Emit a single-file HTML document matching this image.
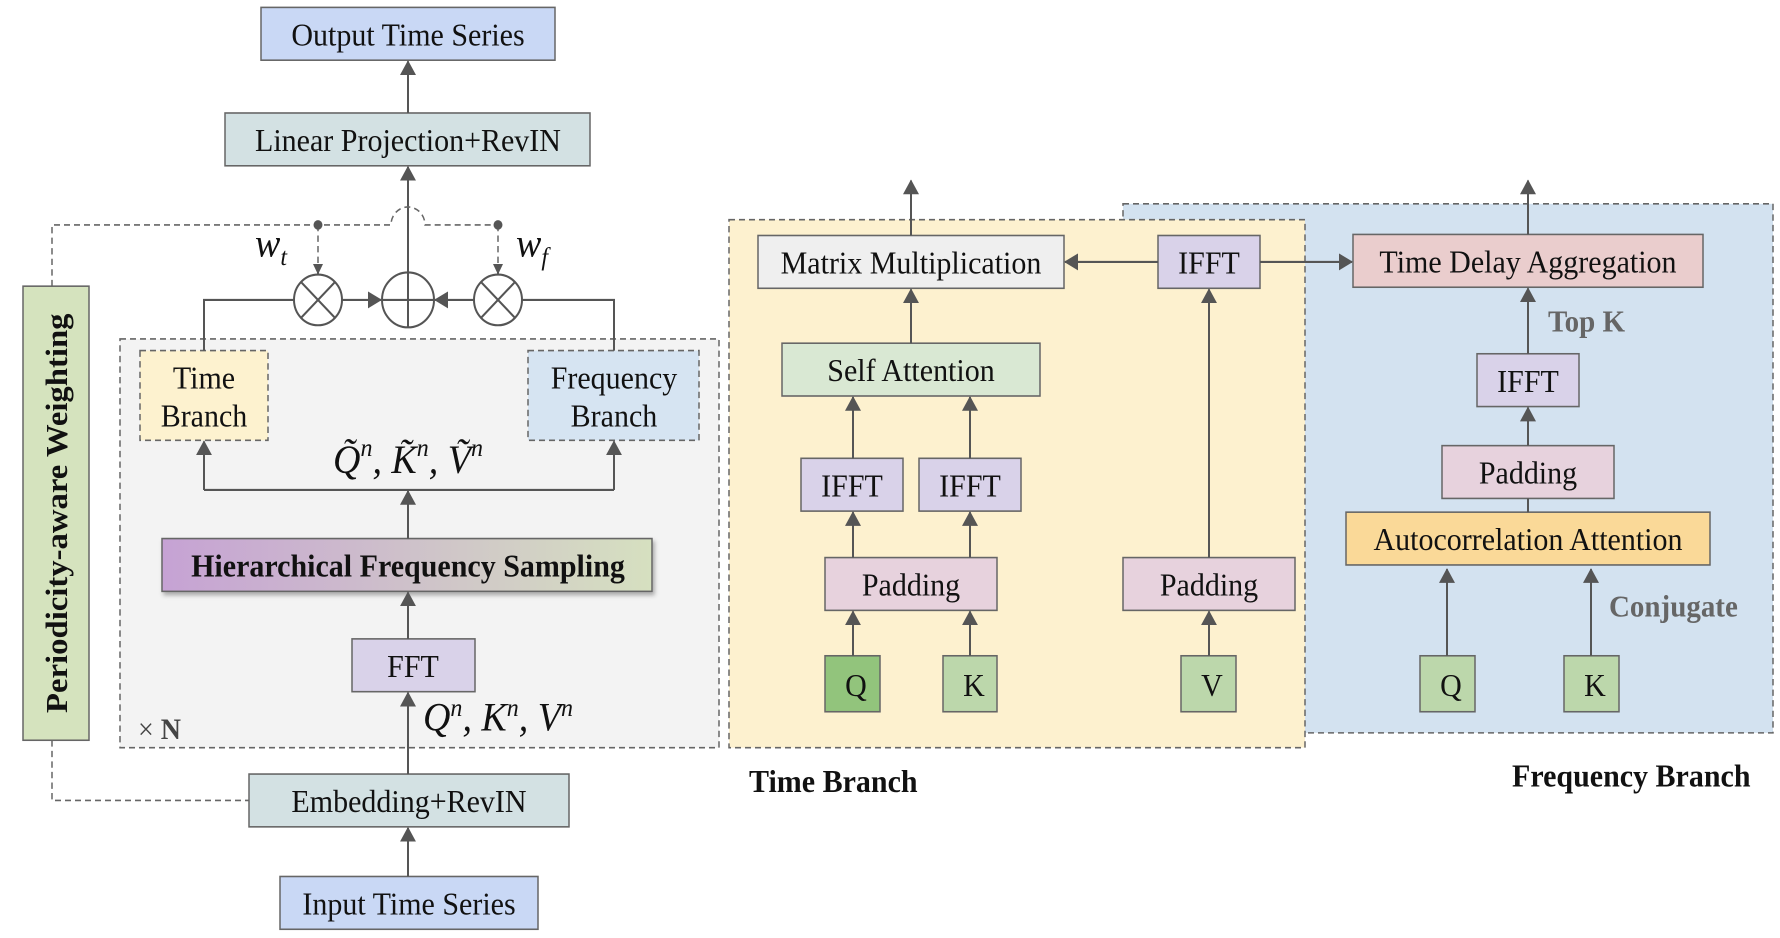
<!DOCTYPE html>
<html><head><meta charset="utf-8"><style>
html,body{margin:0;padding:0;background:#fff;}
svg{display:block;}
text{font-family:"Liberation Serif",serif;}
</style></head><body>
<svg width="1780" height="938" viewBox="0 0 1780 938" xmlns="http://www.w3.org/2000/svg">
<defs>
<marker id="a" markerWidth="10" markerHeight="10" refX="9" refY="5" orient="auto" markerUnits="userSpaceOnUse" viewBox="0 0 10 10">
<path d="M0,0 L10,5 L0,10 z" fill="#555"/></marker>
<marker id="b" markerWidth="14" markerHeight="16" refX="13" refY="8" orient="auto" markerUnits="userSpaceOnUse" viewBox="0 0 14 16">
<path d="M0,0 L14,8 L0,16 z" fill="#555"/></marker>
<linearGradient id="g" x1="0" x2="1" y1="0" y2="0"><stop offset="0" stop-color="#c6a2d4"/><stop offset="1" stop-color="#d6e0c0"/></linearGradient>
<filter id="sh" x="-5%" y="-20%" width="110%" height="150%"><feDropShadow dx="2" dy="3" stdDeviation="2" flood-color="#000" flood-opacity="0.3"/></filter>
</defs>
<g transform="scale(1,1.056)">
<g stroke="#666" stroke-width="1.5">
<rect x="120" y="321" width="599" height="387" fill="#f3f3f3" stroke-dasharray="6,4"/>
<rect x="1123" y="193" width="650" height="501" fill="#d3e2f0" stroke-dasharray="6,4"/>
<rect x="729" y="208" width="576" height="500" fill="#fdf1cf" stroke-dasharray="6,4"/>
<rect x="261" y="7" width="294" height="50" fill="#c9d8f5"/>
<rect x="225" y="107" width="365" height="50" fill="#d3e1e3"/>
<rect x="23" y="271" width="66" height="430" fill="#d5e3be"/>
<rect x="140" y="332" width="128" height="85" fill="#fdf2cf" stroke-dasharray="6,4"/>
<rect x="528" y="332" width="171" height="85" fill="#d6e4f2" stroke-dasharray="6,4"/>
<rect x="162" y="510" width="490" height="50" fill="url(#g)" filter="url(#sh)"/>
<rect x="352" y="605" width="123" height="50" fill="#d9d2e9"/>
<rect x="249" y="733" width="320" height="50" fill="#d3e1e3"/>
<rect x="280" y="830" width="258" height="50" fill="#c9d8f5"/>
<rect x="758" y="223" width="306" height="50" fill="#efefef"/>
<rect x="1158" y="223" width="102" height="50" fill="#d9d2e9"/>
<rect x="782" y="325" width="258" height="50" fill="#d9e8d3"/>
<rect x="801" y="434" width="102" height="50" fill="#d9d2e9"/>
<rect x="919" y="434" width="102" height="50" fill="#d9d2e9"/>
<rect x="825" y="528" width="172" height="50" fill="#e7d2dd"/>
<rect x="1123" y="528" width="172" height="50" fill="#e7d2dd"/>
<rect x="825" y="621" width="55" height="53" fill="#92c47c"/>
<rect x="943" y="621" width="54" height="53" fill="#bcd7ab"/>
<rect x="1181" y="621" width="55" height="53" fill="#bcd7ab"/>
<rect x="1353" y="222" width="350" height="50" fill="#eacdcd"/>
<rect x="1477" y="335" width="102" height="50" fill="#d9d2e9"/>
<rect x="1442" y="422" width="172" height="50" fill="#e7d2dd"/>
<rect x="1346" y="485" width="364" height="50" fill="#fad998"/>
<rect x="1420" y="621" width="55" height="53" fill="#bcd7ab"/>
<rect x="1564" y="621" width="55" height="53" fill="#bcd7ab"/>
</g>
<g stroke="#555" stroke-width="2" fill="none">
<line x1="408" y1="107" x2="408" y2="58" marker-end="url(#b)"/>
<line x1="408" y1="309" x2="408" y2="158" marker-end="url(#b)"/>
<path d="M204,332 V284 H294"/>
<path d="M614,332 V284 H522"/>
<line x1="342" y1="284" x2="381" y2="284" marker-end="url(#b)"/>
<line x1="474" y1="284" x2="435" y2="284" marker-end="url(#b)"/>
<path d="M204,464 H614"/>
<line x1="204" y1="464" x2="204" y2="418" marker-end="url(#b)"/>
<line x1="614" y1="464" x2="614" y2="418" marker-end="url(#b)"/>
<line x1="408" y1="510" x2="408" y2="465" marker-end="url(#b)"/>
<line x1="408" y1="605" x2="408" y2="561" marker-end="url(#b)"/>
<line x1="408" y1="733" x2="408" y2="656" marker-end="url(#b)"/>
<line x1="408" y1="830" x2="408" y2="784" marker-end="url(#b)"/>
<g stroke="#666" stroke-width="1.5" stroke-dasharray="6,4">
<path d="M52,271 V213 H391 A17,17 0 0 1 425,213 H498"/>
<path d="M52,701 V758 H249"/>
<line x1="318" y1="213" x2="318" y2="258"/>
<line x1="498" y1="213" x2="498" y2="258"/>
</g>
<line x1="318" y1="250" x2="318" y2="259" marker-end="url(#a)"/>
<line x1="498" y1="250" x2="498" y2="259" marker-end="url(#a)"/>
<line x1="911" y1="223" x2="911" y2="171" marker-end="url(#b)"/>
<line x1="911" y1="325" x2="911" y2="274" marker-end="url(#b)"/>
<line x1="853" y1="434" x2="853" y2="376" marker-end="url(#b)"/>
<line x1="970" y1="434" x2="970" y2="376" marker-end="url(#b)"/>
<line x1="853" y1="528" x2="853" y2="485" marker-end="url(#b)"/>
<line x1="970" y1="528" x2="970" y2="485" marker-end="url(#b)"/>
<line x1="853" y1="621" x2="853" y2="579" marker-end="url(#b)"/>
<line x1="970" y1="621" x2="970" y2="579" marker-end="url(#b)"/>
<line x1="1209" y1="621" x2="1209" y2="579" marker-end="url(#b)"/>
<line x1="1209" y1="528" x2="1209" y2="274" marker-end="url(#b)"/>
<line x1="1158" y1="248" x2="1065" y2="248" marker-end="url(#b)"/>
<line x1="1260" y1="248" x2="1352" y2="248" marker-end="url(#b)"/>
<line x1="1528" y1="222" x2="1528" y2="171" marker-end="url(#b)"/>
<line x1="1528" y1="335" x2="1528" y2="273" marker-end="url(#b)"/>
<line x1="1528" y1="422" x2="1528" y2="386" marker-end="url(#b)"/>
<line x1="1528" y1="485" x2="1528" y2="472"/>
<line x1="1447" y1="621" x2="1447" y2="539" marker-end="url(#b)"/>
<line x1="1591" y1="621" x2="1591" y2="539" marker-end="url(#b)"/>
</g>
<g stroke="#555" stroke-width="2" fill="#fff">
<circle cx="318" cy="284" r="24"/><path d="M301,267 L335,301 M335,267 L301,301" fill="none"/>
<circle cx="498" cy="284" r="24"/><path d="M481,267 L515,301 M515,267 L481,301" fill="none"/>
<circle cx="408" cy="284" r="26"/><path d="M382,284 H434 M408,258 V310" fill="none"/>
</g>
<circle cx="318" cy="213" r="4.5" fill="#555"/>
<circle cx="498" cy="213" r="4.5" fill="#555"/>
<g font-size="30" text-anchor="middle" fill="#111">
<text x="408" y="43">Output Time Series</text>
<text x="408" y="143">Linear Projection+RevIN</text>
<text x="204" y="368">Time</text>
<text x="204" y="404">Branch</text>
<text x="614" y="368">Frequency</text>
<text x="614" y="404">Branch</text>
<text x="413" y="641">FFT</text>
<text x="409" y="769">Embedding+RevIN</text>
<text x="409" y="866">Input Time Series</text>
<text x="911" y="259">Matrix Multiplication</text>
<text x="1209" y="259">IFFT</text>
<text x="911" y="361">Self Attention</text>
<text x="852" y="470">IFFT</text>
<text x="970" y="470">IFFT</text>
<text x="911" y="564">Padding</text>
<text x="1209" y="564">Padding</text>
<text x="856" y="659">Q</text>
<text x="974" y="659">K</text>
<text x="1212" y="659">V</text>
<text x="1528" y="258">Time Delay Aggregation</text>
<text x="1528" y="371">IFFT</text>
<text x="1528" y="458">Padding</text>
<text x="1528" y="521">Autocorrelation Attention</text>
<text x="1451" y="659">Q</text>
<text x="1595" y="659">K</text>
</g>
<text x="408" y="546" font-size="30" font-weight="bold" text-anchor="middle" fill="#111">Hierarchical Frequency Sampling</text>
<text transform="translate(67,486) rotate(-90)" font-size="31" font-weight="bold" text-anchor="middle" fill="#111">Periodicity-aware Weighting</text>
<text x="138" y="700" font-size="28" fill="#444">× <tspan font-weight="bold">N</tspan></text>
<text x="255" y="243" font-size="38" font-style="italic" fill="#111">w<tspan font-size="24" dy="8">t</tspan></text>
<text x="516" y="243" font-size="38" font-style="italic" fill="#111">w<tspan font-size="24" dy="8">f</tspan></text>
<text x="408" y="448" font-size="38" font-style="italic" text-anchor="middle" fill="#111">Q̃<tspan font-size="24" dy="-16">n</tspan><tspan dy="16">, K̃</tspan><tspan font-size="24" dy="-16">n</tspan><tspan dy="16">, Ṽ</tspan><tspan font-size="24" dy="-16">n</tspan></text>
<text x="423" y="692" font-size="38" font-style="italic" fill="#111">Q<tspan font-size="24" dy="-14">n</tspan><tspan dy="14">, K</tspan><tspan font-size="24" dy="-14">n</tspan><tspan dy="14">, V</tspan><tspan font-size="24" dy="-14">n</tspan></text>
<text x="749" y="750" font-size="30" font-weight="bold" fill="#111">Time Branch</text>
<text x="1512" y="745" font-size="30" font-weight="bold" fill="#111">Frequency Branch</text>
<text x="1548" y="314" font-size="29" font-weight="bold" fill="#666">Top K</text>
<text x="1609" y="584" font-size="29" font-weight="bold" fill="#666">Conjugate</text>
</g>
</svg>
</body></html>
